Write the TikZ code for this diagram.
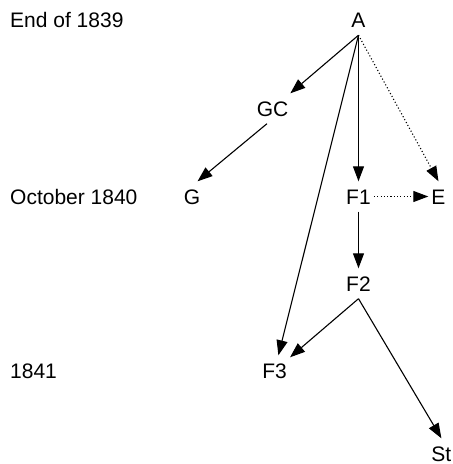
\documentclass[tikz,border=0pt]{standalone}
\usepackage{fontspec}
\setmainfont{Liberation Sans}
\usetikzlibrary{arrows.meta}
\begin{document}
\begin{tikzpicture}[x=1pt,y=-1pt,
  lbl/.style={anchor=base west,inner sep=0pt,font=\fontsize{21}{25}\selectfont},
  vert/.style={anchor=base,inner xsep=3pt,inner ysep=7.5pt,text height=15pt,text depth=0pt,font=\fontsize{21}{25}\selectfont},
  conn/.style={line width=1.1pt,-{Triangle[length=15pt,width=11pt]}},
  dconn/.style={conn,dash pattern=on 1.1pt off 2.2pt}]
\useasboundingbox (0,0) rectangle (453,464);
\node[lbl] (l1) at (10,27.5) {End of 1839};
\node[lbl] (l2) at (10,204) {October 1840};
\node[lbl] (l3) at (10,378) {1841};
\node[vert] (A) at (358.5,27.5) {A};
\node[vert] (GC) at (272.5,116) {GC};
\node[vert] (G) at (192,204) {G};
\node[vert] (F1) at (358.5,204) {F1};
\node[vert] (E) at (438.5,204) {E};
\node[vert] (F2) at (358.5,291) {F2};
\node[vert] (F3) at (274.6,378) {F3};
\node[vert] (St) at (441.4,461) {St};
\draw[conn] (A.south) -- (GC);
\draw[conn] (GC.250) -- (G.70);
\draw[conn] (A.south) -- (F1.north);
\draw[conn] (A.south) -- (F3);
\draw[dconn] (A.south) -- (E.north);
\draw[dconn] (F1.east) -- (E.west);
\draw[conn] (F1.south) -- (F2.north);
\draw[conn] (F2.south) -- (F3);
\draw[conn] (F2.south) -- (St.north);
\end{tikzpicture}
\end{document}
